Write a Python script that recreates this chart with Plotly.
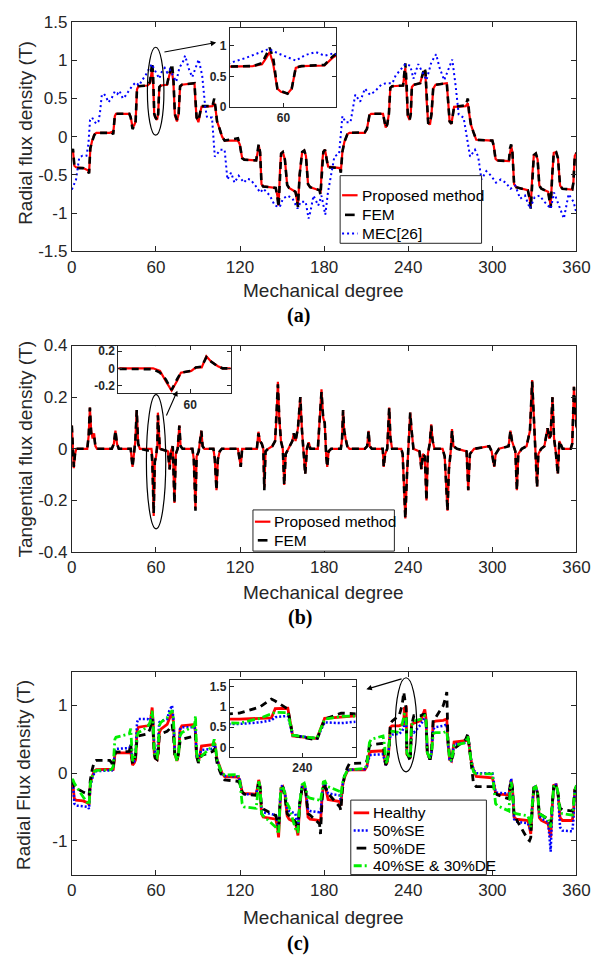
import plotly.graph_objects as go

# ---------------- (a) radial flux density ----------------
a_deg = [0, 0.8, 1.8, 3, 8, 11.5, 12.3, 13.2, 14.5, 16,
         17.5, 27, 28.5, 29.5, 30.7, 31.5, 41, 42, 43.3, 44.5,
         45.5, 46.5, 47.5, 54, 55.8, 56.6, 57.3, 58, 58.8, 59.5,
         60.8, 61.6, 62.4, 63.5, 68, 69.5, 70.8, 71.5, 72.5, 73.5,
         75, 76.2, 77.2, 78.5, 87.5, 88.2, 89, 90.3, 91.5, 92.5,
         100.3, 101.6, 102.4, 103.6, 105.5, 107.2, 109, 118.5, 119.8, 121.5,
         123, 131.5, 132.6, 133.3, 134.3, 135.3, 136.5, 145.5, 146.7, 147.5,
         148.6, 149.3, 150.5, 152, 153.6, 155, 159.5, 160.5, 161.3, 162.5,
         164.3, 165.8, 167, 168.5, 170, 176.7, 177.4, 178.5, 179.4, 180.6,
         181.8, 182.8, 191.2, 191.9, 193, 194.4, 196.5, 198, 209, 210.5,
         212.3, 213.5, 222, 223.2, 223.9, 225, 226.2, 227.2, 228.5, 236.3,
         237, 237.9, 238.8, 239.7, 241, 241.8, 242.6, 244, 248.5, 250,
         251.5, 252.3, 253.2, 254.2, 255.5, 256.6, 257.8, 259.5, 267.5, 268.5,
         269.5, 270.8, 271.8, 272.7, 281, 282.5, 283.5, 284.7, 286.5, 288.5,
         300, 301, 302.3, 303.5, 311.8, 312.6, 313.4, 314.3, 315.5, 317,
         325.3, 326.5, 327.4, 328.5, 329.6, 331, 332.3, 333.5, 335, 339.8,
         340.8, 341.6, 342.7, 343.8, 345.5, 346.8, 348.3, 350, 357, 357.8,
         358.8, 360]
a_proposed = [-0.22, -0.18, -0.38, -0.40, -0.41, -0.44, -0.47, -0.16, -0.05, 0.03,
              0.05, 0.05, 0.06, 0.04, 0.27, 0.30, 0.30, 0.26, 0.12, 0.15,
              0.20, 0.62, 0.66, 0.67, 0.70, 0.80, 0.90, 0.70, 0.30, 0.25,
              0.22, 0.30, 0.64, 0.67, 0.68, 0.80, 0.87, 0.85, 0.70, 0.28,
              0.20, 0.30, 0.65, 0.68, 0.70, 0.45, 0.25, 0.19, 0.28, 0.39,
              0.40, 0.44, 0.38, 0.20, 0.10, 0.00, -0.05, -0.05, -0.10, -0.28,
              -0.30, -0.31, -0.20, -0.11, -0.20, -0.62, -0.65, -0.67, -0.78, -0.90,
              -0.40, -0.22, -0.20, -0.30, -0.63, -0.67, -0.72, -0.80, -0.90, -0.50,
              -0.20, -0.18, -0.25, -0.62, -0.66, -0.70, -0.74, -0.35, -0.20, -0.17,
              -0.30, -0.39, -0.41, -0.46, -0.20, -0.07, 0.03, 0.05, 0.05, 0.10,
              0.28, 0.30, 0.30, 0.18, 0.12, 0.16, 0.30, 0.64, 0.66, 0.67,
              0.80, 0.90, 0.60, 0.27, 0.22, 0.30, 0.65, 0.68, 0.70, 0.80,
              0.86, 0.80, 0.45, 0.18, 0.16, 0.30, 0.63, 0.68, 0.70, 0.45,
              0.20, 0.17, 0.30, 0.39, 0.40, 0.44, 0.30, 0.16, 0.06, -0.04,
              -0.05, -0.12, -0.29, -0.31, -0.32, -0.18, -0.12, -0.20, -0.62, -0.66,
              -0.70, -0.80, -0.90, -0.50, -0.24, -0.22, -0.30, -0.64, -0.68, -0.72,
              -0.82, -0.90, -0.50, -0.21, -0.20, -0.28, -0.64, -0.68, -0.69, -0.60,
              -0.25, -0.21]
a_fem = [-0.20, -0.16, -0.38, -0.41, -0.41, -0.45, -0.48, -0.15, -0.06, 0.02,
         0.05, 0.05, 0.06, 0.03, 0.28, 0.30, 0.30, 0.25, 0.10, 0.14,
         0.20, 0.63, 0.66, 0.67, 0.72, 0.85, 0.97, 0.80, 0.30, 0.26,
         0.22, 0.30, 0.65, 0.67, 0.69, 0.82, 0.90, 0.95, 0.75, 0.30,
         0.22, 0.30, 0.66, 0.68, 0.70, 0.50, 0.25, 0.21, 0.30, 0.40,
         0.40, 0.50, 0.40, 0.20, 0.10, 0.00, -0.05, -0.02, -0.10, -0.28,
         -0.30, -0.31, -0.18, -0.10, -0.20, -0.62, -0.65, -0.67, -0.80, -0.92,
         -0.50, -0.22, -0.20, -0.30, -0.63, -0.67, -0.72, -0.80, -0.92, -0.50,
         -0.20, -0.18, -0.25, -0.62, -0.66, -0.70, -0.76, -0.35, -0.20, -0.17,
         -0.30, -0.40, -0.41, -0.47, -0.20, -0.07, 0.03, 0.05, 0.06, 0.10,
         0.28, 0.30, 0.30, 0.18, 0.12, 0.16, 0.30, 0.64, 0.66, 0.67,
         0.85, 0.96, 0.70, 0.27, 0.22, 0.30, 0.66, 0.68, 0.70, 0.82,
         0.90, 0.85, 0.45, 0.18, 0.17, 0.30, 0.64, 0.68, 0.70, 0.45,
         0.20, 0.17, 0.30, 0.39, 0.41, 0.50, 0.30, 0.16, 0.06, -0.04,
         -0.05, -0.12, -0.30, -0.31, -0.32, -0.15, -0.10, -0.20, -0.62, -0.66,
         -0.70, -0.80, -0.94, -0.50, -0.24, -0.22, -0.30, -0.64, -0.68, -0.72,
         -0.82, -0.93, -0.50, -0.21, -0.20, -0.28, -0.64, -0.68, -0.69, -0.60,
         -0.25, -0.21]
mec_deg = [0, 3, 5.3, 7.5, 10.4, 11.8, 13, 14.5, 16, 17.5,
           19, 20, 21.4, 23, 24.5, 26, 28.3, 30.6, 32.5, 34,
           36.4, 38.5, 41, 43.3, 45.6, 48, 50.2, 52.5, 54.8, 57.1,
           58.9, 60.6, 62.4, 64.2, 66.3, 68, 69.8, 71.5, 73.2, 74.5,
           76.7, 79.5, 80.8, 83.6, 85.9, 88.5, 90.5, 93, 95.2, 96.5,
           100, 102, 104, 106, 109, 111, 113.6, 116, 119, 122.8,
           125, 127.4, 131, 134.4, 136.7, 139, 141.3, 144.8, 148.3, 150.6,
           154, 157.5, 161, 163.3, 166.8, 168.9, 170.2, 172.4, 175.8, 178.1,
           180.8, 182.7, 185, 187.3, 190.7, 193, 195.3, 198.8, 202.2, 205.7,
           209.1, 212.6, 216, 220.7, 224.1, 228.7, 231, 234.4, 237.9, 241.4,
           243.7, 247.1, 249.4, 253, 256.4, 259.9, 262.2, 265.6, 268, 271.4,
           273.7, 276, 279.5, 281.8, 284.1, 287.6, 289.9, 292.2, 295.7, 299.1,
           302.6, 306, 309.5, 312.9, 316.4, 319.8, 323.3, 326.8, 330.2, 333.7,
           337.1, 341.7, 344, 347.5, 351, 354.4, 357.9, 360]
mec_val = [-0.69, -0.56, -0.27, -0.25, -0.25, -0.10, 0.22, 0.25, 0.20, 0.17,
           0.20, 0.30, 0.55, 0.56, 0.52, 0.45, 0.50, 0.59, 0.56, 0.60,
           0.50, 0.54, 0.61, 0.67, 0.71, 0.67, 0.74, 0.80, 0.88, 0.95,
           0.88, 0.82, 0.76, 0.85, 0.90, 0.84, 0.88, 0.82, 0.76, 0.72,
           0.90, 0.99, 1.06, 0.88, 0.78, 0.92, 1.01, 0.80, 0.38, 0.25,
           0.25, -0.26, -0.22, -0.17, -0.17, -0.56, -0.47, -0.60, -0.51, -0.60,
           -0.55, -0.56, -0.64, -0.73, -0.68, -0.72, -0.77, -0.90, -0.92, -0.81,
           -0.77, -0.81, -0.94, -0.85, -0.85, -1.07, -0.98, -0.77, -0.90, -0.77,
           -1.02, -0.73, -0.47, -0.26, -0.22, 0.27, 0.19, 0.19, 0.55, 0.46,
           0.63, 0.55, 0.59, 0.68, 0.70, 0.70, 0.80, 0.87, 0.95, 0.93,
           0.76, 0.95, 0.87, 0.74, 0.97, 1.08, 0.91, 0.74, 0.85, 1.01,
           0.68, 0.29, 0.25, 0.00, -0.26, -0.17, -0.26, -0.56, -0.45, -0.51,
           -0.60, -0.56, -0.60, -0.68, -0.64, -0.81, -0.77, -0.94, -0.79, -0.77,
           -0.85, -0.94, -0.73, -0.90, -1.07, -0.75, -0.85, -1.00]

# ---------------- (b) tangential flux density ----------------
b_deg = [0, 0.7, 1.4, 2.3, 3.2, 11, 12, 12.9, 13.8, 14.8,
         15.9, 16.8, 18, 28.5, 30, 31.1, 32.2, 33.5, 42, 43.3,
         44.5, 45.3, 46.3, 47.3, 48.5, 56.8, 57.4, 57.9, 58.4, 58.9,
         59.2, 60.1, 60.5, 61, 61.4, 61.8, 62.4, 62.8, 68.5, 69.8,
         70.6, 72, 73.2, 74.2, 75.5, 76.7, 77.6, 79, 86, 87,
         88.2, 89, 90.5, 92.4, 93.3, 94.5, 101, 102, 103.2, 104.2,
         105.5, 107, 118.5, 120.5, 121.5, 132, 133.1, 134.2, 135.5, 136.6,
         137.3, 138.2, 140, 143, 145, 146, 147, 148, 149.2, 150.5,
         151.5, 152.6, 154.5, 157.3, 158.4, 159.6, 161.3, 163, 164.2, 165.3,
         166.5, 167.7, 169, 170.2, 175.5, 177, 178.1, 179.3, 180.4, 181.5,
         182.2, 183.2, 185, 191.9, 192.8, 193.5, 194.3, 195.3, 196.5, 198,
         209, 210.7, 211.7, 212.5, 214, 221.8, 222.5, 223.5, 225, 226.4,
         227.3, 228.5, 235, 236, 236.8, 237.9, 239.1, 240.2, 241.4, 242.4,
         243.7, 248, 249.4, 250.4, 251.8, 253, 254, 255.3, 256.4, 257.4,
         258.7, 264.5, 266, 268, 269, 270.3, 271.2, 272.2, 274.8, 281.6,
         282.8, 284, 285.8, 287, 297.8, 299.5, 301.3, 302.4, 304.7, 311.6,
         312.9, 314, 316.4, 317.5, 318.5, 321, 324.4, 326.8, 328.4, 329.6,
         330.6, 331.9, 332.8, 334.8, 337.1, 339.4, 340.5, 341.5, 342.9, 344,
         345.2, 346.7, 347.8, 350.1, 355.9, 357, 358.2, 359.2, 360]
b_proposed = [0.09, 0.00, -0.075, -0.02, 0.00, 0.00, 0.05, 0.16, 0.07, 0.04,
              0.06, 0.01, 0.00, 0.00, 0.02, 0.07, 0.02, 0.00, 0.00, -0.07,
              -0.01, 0.03, 0.15, 0.02, 0.00, 0.00, -0.03, -0.15, -0.26, -0.14,
              -0.05, -0.03, 0.01, 0.01, 0.14, 0.08, 0.025, 0.00, -0.01, -0.08,
              -0.01, 0.01, -0.21, -0.02, 0.00, 0.09, 0.01, 0.00, 0.00, -0.04,
              -0.23, -0.03, -0.01, 0.07, 0.01, 0.00, 0.00, -0.04, -0.16, -0.04,
              -0.01, 0.00, 0.00, -0.07, 0.00, 0.00, 0.066, 0.03, 0.02, 0.00,
              -0.15, -0.01, 0.00, 0.01, 0.03, 0.12, 0.26, 0.12, 0.03, 0.00,
              -0.14, -0.02, 0.00, 0.03, 0.06, 0.03, 0.08, 0.20, 0.07, 0.00,
              -0.095, 0.00, 0.025, 0.00, 0.00, 0.13, 0.23, 0.12, 0.10, -0.03,
              -0.07, -0.01, 0.00, 0.00, 0.04, 0.15, 0.07, 0.04, 0.01, 0.00,
              0.00, 0.01, 0.07, 0.01, 0.00, 0.00, -0.07, -0.02, 0.00, 0.16,
              0.04, 0.00, 0.00, -0.02, -0.11, -0.27, -0.10, 0.04, 0.14, 0.07,
              0.00, -0.01, -0.08, -0.02, -0.03, -0.20, -0.02, 0.02, 0.095, 0.03,
              0.00, 0.00, -0.03, -0.24, -0.08, -0.01, 0.076, 0.01, 0.00, -0.01,
              -0.16, -0.02, -0.01, 0.00, 0.01, -0.01, -0.07, -0.02, 0.00, 0.01,
              0.07, 0.03, -0.01, -0.16, -0.02, 0.00, 0.01, 0.07, 0.266, 0.10,
              0.02, -0.146, -0.02, 0.00, 0.01, 0.08, 0.04, 0.05, 0.20, 0.04,
              -0.01, -0.095, 0.03, 0.00, 0.00, 0.02, 0.24, 0.17, 0.08]
b_fem = [0.09, 0.00, -0.07, -0.02, 0.00, 0.00, 0.05, 0.16, 0.06, 0.05,
         0.05, 0.01, 0.00, 0.00, 0.02, 0.07, 0.02, 0.00, 0.00, -0.07,
         -0.01, 0.03, 0.15, 0.02, 0.00, -0.01, -0.05, -0.13, -0.25, -0.12,
         -0.05, -0.03, 0.01, 0.02, 0.13, 0.08, 0.02, 0.00, -0.01, -0.08,
         -0.01, 0.01, -0.21, -0.02, 0.00, 0.09, 0.01, 0.00, 0.00, -0.04,
         -0.24, -0.03, -0.01, 0.07, 0.01, 0.00, 0.00, -0.04, -0.16, -0.04,
         -0.01, 0.00, 0.00, -0.07, 0.00, 0.00, 0.06, 0.03, 0.02, 0.00,
         -0.16, -0.01, 0.00, 0.01, 0.03, 0.12, 0.25, 0.12, 0.03, 0.00,
         -0.14, -0.02, 0.00, 0.03, 0.06, 0.03, 0.08, 0.20, 0.07, 0.00,
         -0.10, 0.00, 0.025, 0.00, 0.00, 0.13, 0.22, 0.12, 0.10, -0.03,
         -0.07, -0.01, 0.00, 0.00, 0.04, 0.15, 0.07, 0.04, 0.01, 0.00,
         0.00, 0.01, 0.07, 0.01, 0.00, 0.00, -0.07, -0.02, 0.00, 0.16,
         0.04, 0.00, 0.00, -0.02, -0.11, -0.27, -0.10, 0.04, 0.14, 0.07,
         0.00, -0.01, -0.08, -0.02, -0.03, -0.20, -0.02, 0.02, 0.09, 0.03,
         0.00, 0.00, -0.03, -0.24, -0.08, -0.01, 0.07, 0.01, 0.00, -0.01,
         -0.16, -0.02, -0.01, 0.00, 0.01, -0.01, -0.07, -0.02, 0.00, 0.01,
         0.07, 0.03, -0.01, -0.16, -0.02, 0.00, 0.01, 0.07, 0.26, 0.10,
         0.02, -0.15, -0.02, 0.00, 0.01, 0.08, 0.04, 0.05, 0.20, 0.04,
         -0.01, -0.10, 0.03, 0.00, 0.00, 0.02, 0.24, 0.17, 0.08]

# ---------------- (c) radial flux density under faults ----------------
c_deg = [0, 0.8, 1.8, 3, 8, 11.5, 12.3, 13.2, 14.5, 16,
         17.5, 27, 28.5, 29.5, 30.7, 31.5, 41, 42, 43.3, 44.5,
         45.5, 46.5, 47.5, 54, 55.8, 56.6, 57.3, 58, 58.8, 59.5,
         60.8, 61.6, 62.4, 63.5, 68, 69.5, 70.8, 71.5, 72.5, 73.5,
         75, 76.2, 77.2, 78.5, 87.5, 88.2, 89, 90.3, 91.5, 92.5,
         100.3, 101.6, 102.4, 103.6, 105.5, 107.2, 109, 118.5, 119.8, 121.5,
         123, 131.5, 132.6, 133.3, 134.3, 135.3, 136.5, 145.5, 146.7, 147.5,
         148.6, 149.3, 150.5, 152, 153.6, 155, 159.5, 160.5, 161.3, 162.5,
         164.3, 165.8, 167, 168.5, 170, 176.7, 177.4, 178.5, 179.4, 180.6,
         181.8, 182.8, 191.2, 191.9, 193, 194.4, 196.5, 198, 209, 210.5,
         212.3, 213.5, 222, 223.2, 223.9, 225, 226.2, 227.2, 228.5, 233.5,
         235.6, 236.8, 237.2, 238.5, 239, 241.5, 242.3, 244, 249, 250.5,
         251.8, 252.7, 253.6, 255.5, 256.6, 257.8, 259.5, 265, 266.8, 267.5,
         268.3, 269.5, 270.8, 271.8, 272.7, 281, 282.5, 283.5, 284.7, 286.5,
         288.5, 300, 301, 302.3, 303.5, 311.8, 312.6, 313.4, 314.3, 315.5,
         317, 325.3, 326.5, 327.4, 328.5, 329.6, 331, 332.3, 333.5, 335,
         339.8, 340.8, 341.6, 342.7, 343.8, 345.5, 346.8, 348.3, 350, 357,
         357.8, 358.8, 360]
c_healthy = [-0.22, -0.18, -0.38, -0.40, -0.41, -0.44, -0.47, -0.16, -0.05, 0.03,
             0.05, 0.05, 0.06, 0.04, 0.27, 0.30, 0.30, 0.33, 0.12, 0.15,
             0.20, 0.62, 0.68, 0.70, 0.73, 0.85, 0.97, 0.75, 0.30, 0.22,
             0.20, 0.30, 0.60, 0.65, 0.72, 0.80, 0.88, 0.90, 0.75, 0.28,
             0.18, 0.30, 0.65, 0.70, 0.72, 0.60, 0.25, 0.17, 0.28, 0.40,
             0.42, 0.45, 0.38, 0.20, 0.10, 0.00, -0.05, -0.06, -0.10, -0.28,
             -0.30, -0.31, -0.20, -0.10, -0.20, -0.60, -0.65, -0.68, -0.80, -0.95,
             -0.45, -0.22, -0.20, -0.30, -0.63, -0.68, -0.73, -0.82, -0.92, -0.50,
             -0.20, -0.18, -0.30, -0.65, -0.68, -0.70, -0.75, -0.35, -0.20, -0.17,
             -0.30, -0.39, -0.42, -0.48, -0.20, -0.07, 0.03, 0.05, 0.05, 0.10,
             0.30, 0.32, 0.33, 0.20, 0.12, 0.16, 0.35, 0.68, 0.70, 0.70,
             0.72, 0.73, 0.96, 0.97, 0.28, 0.22, 0.72, 0.74, 0.78, 0.88,
             0.94, 0.80, 0.30, 0.20, 0.30, 0.75, 0.77, 0.78, 0.80, 0.80,
             0.45, 0.20, 0.18, 0.30, 0.46, 0.48, 0.55, 0.40, 0.20, 0.05,
             -0.05, -0.07, -0.15, -0.30, -0.31, -0.32, -0.20, -0.10, -0.20, -0.65,
             -0.68, -0.70, -0.80, -0.90, -0.50, -0.22, -0.20, -0.30, -0.66, -0.70,
             -0.75, -0.88, -0.95, -0.50, -0.18, -0.17, -0.30, -0.66, -0.70, -0.70,
             -0.60, -0.25, -0.20]
c_se50 = [-0.15, -0.12, -0.45, -0.48, -0.49, -0.50, -0.53, -0.20, -0.08, 0.00,
          0.03, 0.03, 0.04, 0.06, 0.33, 0.36, 0.37, 0.42, 0.15, 0.17,
          0.30, 0.75, 0.80, 0.80, 0.78, 0.82, 0.85, 0.78, 0.35, 0.30,
          0.28, 0.50, 0.75, 0.77, 0.80, 0.92, 0.98, 1.00, 0.80, 0.30,
          0.20, 0.30, 0.65, 0.68, 0.68, 0.60, 0.25, 0.20, 0.30, 0.34,
          0.36, 0.42, 0.38, 0.20, 0.08, -0.02, -0.04, -0.05, -0.10, -0.30,
          -0.31, -0.32, -0.20, -0.12, -0.20, -0.55, -0.58, -0.62, -0.72, -0.85,
          -0.40, -0.20, -0.18, -0.28, -0.53, -0.56, -0.60, -0.70, -0.82, -0.45,
          -0.18, -0.17, -0.25, -0.54, -0.56, -0.58, -0.60, -0.32, -0.18, -0.15,
          -0.25, -0.30, -0.33, -0.42, -0.20, -0.05, 0.04, 0.05, 0.06, 0.10,
          0.25, 0.27, 0.28, 0.20, 0.12, 0.16, 0.35, 0.55, 0.57, 0.58,
          0.62, 0.67, 0.75, 0.78, 0.30, 0.22, 0.62, 0.60, 0.72, 0.78,
          0.82, 0.75, 0.30, 0.20, 0.30, 0.65, 0.68, 0.70, 0.72, 0.72,
          0.45, 0.20, 0.17, 0.30, 0.43, 0.45, 0.55, 0.42, 0.22, 0.05,
          0.00, 0.00, -0.10, -0.28, -0.29, -0.30, -0.18, -0.08, -0.20, -0.68,
          -0.72, -0.74, -0.80, -0.85, -0.45, -0.20, -0.20, -0.30, -0.64, -0.67,
          -0.72, -1.00, -1.16, -0.55, -0.17, -0.17, -0.30, -0.80, -0.85, -0.86,
          -0.70, -0.25, -0.18]
c_de50 = [-0.15, -0.13, -0.20, -0.22, -0.28, -0.31, -0.33, -0.10, 0.05, 0.17,
          0.19, 0.19, 0.15, 0.08, 0.28, 0.31, 0.32, 0.43, 0.14, 0.18,
          0.25, 0.50, 0.55, 0.58, 0.65, 0.75, 0.80, 0.60, 0.28, 0.22,
          0.20, 0.30, 0.55, 0.58, 0.62, 0.65, 0.70, 0.72, 0.55, 0.25,
          0.20, 0.30, 0.47, 0.50, 0.55, 0.58, 0.25, 0.15, 0.22, 0.26,
          0.32, 0.35, 0.30, 0.15, 0.03, -0.05, -0.10, -0.12, -0.15, -0.28,
          -0.31, -0.33, -0.22, -0.12, -0.22, -0.50, -0.53, -0.63, -0.72, -0.85,
          -0.40, -0.24, -0.22, -0.35, -0.60, -0.63, -0.72, -0.80, -0.85, -0.45,
          -0.22, -0.20, -0.30, -0.60, -0.62, -0.75, -0.90, -0.40, -0.22, -0.20,
          -0.25, -0.30, -0.50, -0.55, -0.25, -0.05, 0.08, 0.14, 0.15, 0.18,
          0.40, 0.42, 0.44, 0.25, 0.12, 0.17, 0.35, 0.72, 0.77, 0.85,
          1.00, 1.20, 1.15, 0.95, 0.30, 0.18, 0.70, 0.85, 0.85, 0.87,
          0.87, 0.75, 0.30, 0.20, 0.30, 0.80, 0.82, 1.00, 1.13, 1.20,
          0.50, 0.25, 0.20, 0.25, 0.36, 0.50, 0.58, 0.40, 0.10, -0.15,
          -0.20, -0.20, -0.22, -0.30, -0.32, -0.38, -0.20, -0.12, -0.22, -0.62,
          -0.68, -0.98, -1.00, -0.95, -0.50, -0.22, -0.22, -0.30, -0.60, -0.62,
          -0.68, -0.72, -0.75, -0.45, -0.20, -0.20, -0.30, -0.52, -0.54, -0.56,
          -0.50, -0.25, -0.20]
c_mixed = [-0.10, -0.10, -0.15, -0.19, -0.35, -0.45, -0.47, -0.16, -0.05, 0.02,
           0.04, 0.05, 0.06, 0.10, 0.50, 0.53, 0.58, 0.66, 0.18, 0.20,
           0.30, 0.55, 0.60, 0.68, 0.75, 0.85, 0.92, 0.75, 0.30, 0.25,
           0.23, 0.35, 0.70, 0.75, 0.82, 0.88, 0.90, 0.93, 0.80, 0.30,
           0.18, 0.30, 0.55, 0.60, 0.70, 0.85, 0.30, 0.18, 0.22, 0.25,
           0.40, 0.50, 0.40, 0.20, 0.08, 0.00, -0.03, -0.02, -0.10, -0.45,
           -0.50, -0.52, -0.30, -0.12, -0.20, -0.60, -0.63, -0.80, -0.85, -0.90,
           -0.40, -0.20, -0.20, -0.30, -0.45, -0.50, -0.82, -0.85, -0.88, -0.45,
           -0.17, -0.15, -0.25, -0.35, -0.37, -0.40, -0.42, -0.25, -0.13, -0.12,
           -0.18, -0.20, -0.27, -0.35, -0.15, -0.05, 0.04, 0.05, 0.07, 0.12,
           0.45, 0.50, 0.55, 0.40, 0.15, 0.18, 0.45, 0.60, 0.62, 0.60,
           0.72, 0.82, 0.87, 0.86, 0.30, 0.22, 0.70, 0.77, 0.80, 0.83,
           0.85, 0.80, 0.30, 0.22, 0.30, 0.58, 0.60, 0.60, 0.62, 0.62,
           0.45, 0.22, 0.18, 0.30, 0.41, 0.45, 0.55, 0.40, 0.20, 0.02,
           -0.01, -0.01, -0.20, -0.45, -0.48, -0.56, -0.30, -0.13, -0.25, -0.58,
           -0.60, -0.63, -0.70, -0.80, -0.45, -0.22, -0.20, -0.28, -0.60, -0.62,
           -0.68, -0.75, -0.80, -0.45, -0.20, -0.18, -0.28, -0.58, -0.60, -0.62,
           -0.50, -0.25, -0.18]

# ---------------- ticks ----------------
x_ticks = [0, 60, 120, 180, 240, 300, 360]
a_yticks = [-1.5, -1, -0.5, 0, 0.5, 1, 1.5]
a_ylabels = ["-1.5", "-1", "-0.5", "0", "0.5", "1", "1.5"]
b_yticks = [-0.4, -0.2, 0, 0.2, 0.4]
b_ylabels = ["-0.4", "-0.2", "0", "0.2", "0.4"]
c_yticks = [-1, 0, 1]
c_ylabels = ["-1", "0", "1"]

RED, BLUE, BLACK, GREEN = "#ff0000", "#0000ff", "#000000", "#00ee00"
AXC = "#262626"
SANS = "Liberation Sans, Arial, sans-serif"
SERIF = "Liberation Serif, Times New Roman, serif"
W, H = 605, 964

# line styles: (colour, width, dash)
ST_RED_A = (RED, 2.2, "solid")
ST_BLK_A = (BLACK, 2.6, "7px,5px")
ST_BLU_A = (BLUE, 2.0, "2px,3px")
ST_RED_C = (RED, 2.8, "solid")
ST_BLU_C = (BLUE, 2.5, "2px,2px")
ST_BLK_C = (BLACK, 2.8, "7px,5px")
ST_GRN_C = (GREEN, 2.8, "8px,3px,2px,3px")

fig = go.Figure()


def line(x, y, xa, ya, style, name):
    color, width, dash = style
    fig.add_trace(go.Scatter(x=x, y=y, xaxis=xa, yaxis=ya, mode="lines",
                             line=dict(color=color, width=width, dash=dash),
                             name=name, showlegend=False, hoverinfo="skip"))


# (a) main + inset
for xa, ya in (("x", "y"), ("x2", "y2")):
    line(a_deg, a_proposed, xa, ya, ST_RED_A, "Proposed method")
    line(a_deg, a_fem, xa, ya, ST_BLK_A, "FEM")
    line(mec_deg, mec_val, xa, ya, ST_BLU_A, "MEC[26]")

# (b) main + inset
for xa, ya in (("x3", "y3"), ("x4", "y4")):
    line(b_deg, b_proposed, xa, ya, ST_RED_A, "Proposed method")
    line(b_deg, b_fem, xa, ya, ST_BLK_A, "FEM")

# (c) main + inset
for xa, ya in (("x5", "y5"), ("x6", "y6")):
    line(c_deg, c_healthy, xa, ya, ST_RED_C, "Healthy")
    line(c_deg, c_se50, xa, ya, ST_BLU_C, "50%SE")
    line(c_deg, c_de50, xa, ya, ST_BLK_C, "50%DE")
    line(c_deg, c_mixed, xa, ya, ST_GRN_C, "40%SE & 30%DE")


def px_dom_x(a, b):
    return [a / W, b / W]


def px_dom_y(top, bottom):
    return [1 - bottom / H, 1 - top / H]


def axis(domain, rng, tickvals, ticktext, anchor, small=False):
    return dict(domain=domain, range=rng, tickvals=tickvals, ticktext=ticktext,
                anchor=anchor, showline=True, linecolor=AXC, linewidth=1,
                mirror="ticks", ticks="inside", ticklen=4 if small else 5,
                tickcolor=AXC, showgrid=False, zeroline=False, fixedrange=True,
                tickfont=dict(family=SANS, size=12 if small else 17, color=AXC,
                              weight="bold" if small else "normal"))


XMAIN = px_dom_x(69, 590)
xlab = [str(v) for v in x_ticks]
layout_axes = dict(
    xaxis=axis(XMAIN, [0, 360], x_ticks, xlab, "y"),
    yaxis=axis(px_dom_y(13.3, 247.3), [-1.5, 1.5], a_yticks, a_ylabels, "x"),
    xaxis2=axis(px_dom_x(232, 342), [49.5, 70.3], [60], ["60"], "y2", True),
    yaxis2=axis(px_dom_y(19, 100), [0, 1.3], [0, 0.5, 1], ["0", "0.5", "1"], "x2", True),
    xaxis3=axis(XMAIN, [0, 360], x_ticks, xlab, "y3"),
    yaxis3=axis(px_dom_y(343.3, 554), [-0.4, 0.4], b_yticks, b_ylabels, "x3"),
    xaxis4=axis(px_dom_x(117, 233), [53.8, 63.5], [60], ["60"], "y4", True),
    yaxis4=axis(px_dom_y(344, 392), [-0.29, 0.257], [-0.2, 0, 0.2], ["-0.2", "0", "0.2"], "x4", True),
    xaxis5=axis(XMAIN, [0, 360], x_ticks, xlab, "y5"),
    yaxis5=axis(px_dom_y(676, 883), [-1.5, 1.5], c_yticks, c_ylabels, "x5"),
    xaxis6=axis(px_dom_x(232, 362), [232.5, 245.5], [240], ["240"], "y6", True),
    yaxis6=axis(px_dom_y(685, 763), [-0.24, 1.66], [0, 0.5, 1, 1.5], ["0", "0.5", "1", "1.5"], "x6", True),
)

# white backgrounds for insets, ellipses
shapes = [
    dict(type="rect", xref="x2", yref="y2", x0=49.5, x1=70.3, y0=0, y1=1.3,
         fillcolor="white", line=dict(width=0), layer="below"),
    dict(type="rect", xref="x4", yref="y4", x0=53.8, x1=63.5, y0=-0.29, y1=0.257,
         fillcolor="white", line=dict(width=0), layer="below"),
    dict(type="rect", xref="x6", yref="y6", x0=232.5, x1=245.5, y0=-0.24, y1=1.66,
         fillcolor="white", line=dict(width=0), layer="below"),
    dict(type="circle", xref="x", yref="y", x0=53.9, x1=65.7, y0=0.02, y1=1.17,
         line=dict(color="black", width=1.2), layer="above"),
    dict(type="circle", xref="x3", yref="y3", x0=53.2, x1=67.0, y0=-0.31, y1=0.21,
         line=dict(color="black", width=1.2), layer="above"),
    dict(type="circle", xref="x5", yref="y5", x0=230.8, x1=246.0, y0=0.02, y1=1.41,
         line=dict(color="black", width=1.2), layer="above"),
]


def txt(text, xpx, ypx, size, family=SANS, angle=0, color=AXC, xanchor="center"):
    return dict(text=text, x=xpx / W, y=1 - ypx / H, xref="paper", yref="paper",
                showarrow=False, textangle=angle, xanchor=xanchor, yanchor="middle",
                font=dict(family=family, size=size, color=color))


annotations = [
    txt("Radial flux density (T)", 21, 126, 19, angle=-90),
    txt("Mechanical degree", 329, 287, 19),
    txt("<b>(a)</b>", 303, 313, 20, family=SERIF, color="black"),
    txt("Tangential flux density (T)", 21, 449, 19, angle=-90),
    txt("Mechanical degree", 329, 595, 19),
    txt("<b>(b)</b>", 305, 621, 20, family=SERIF, color="black"),
    txt("Radial Flux density (T)", 19, 781, 19, angle=-90),
    txt("Mechanical degree", 329, 927, 19),
    txt("<b>(c)</b>", 303, 953, 20, family=SERIF, color="black"),
    dict(x=103, y=1.232, xref="x", yref="y", ax=65, ay=1.105, axref="x", ayref="y",
         showarrow=True, arrowhead=2, arrowsize=1, arrowwidth=1.1, arrowcolor="black", text=""),
    dict(x=75.3, y=0.225, xref="x3", yref="y3", ax=67, ay=0.123, axref="x3", ayref="y3",
         showarrow=True, arrowhead=2, arrowsize=1, arrowwidth=1.1, arrowcolor="black", text=""),
    dict(x=210.1, y=1.24, xref="x5", yref="y5", ax=236.3, ay=1.40, axref="x5", ayref="y5",
         showarrow=True, arrowhead=2, arrowsize=1, arrowwidth=1.1, arrowcolor="black", text=""),
]


# legends drawn as boxes with sample lines and text (compact, MATLAB-like)
def legend(box, entries, sample_x, text_x, rows_y):
    x0, y0, x1, y1 = box
    shapes.append(dict(type="rect", xref="paper", yref="paper",
                       x0=x0 / W, x1=x1 / W, y0=1 - y1 / H, y1=1 - y0 / H,
                       fillcolor="white", line=dict(color=AXC, width=1), layer="above"))
    for (label, style, short), yy in zip(entries, rows_y):
        color, width, dash = style
        sx0, sx1 = sample_x
        if short:
            mid = (sx0 + sx1) / 2
            sx0, sx1, dash = mid - 5, mid + 5, "solid"
        shapes.append(dict(type="line", xref="paper", yref="paper",
                           x0=sx0 / W, x1=sx1 / W, y0=1 - yy / H, y1=1 - yy / H,
                           line=dict(color=color, width=width, dash=dash), layer="above"))
        annotations.append(txt(label, text_x, yy, 15.5, color="black", xanchor="left"))


legend((346, 170, 492, 239),
       [("Proposed method", ST_RED_A, False), ("FEM", ST_BLK_A, True), ("MEC[26]", ST_BLU_A, False)],
       (348, 364), 366, (190, 210, 229))
legend((256, 511, 402, 553),
       [("Proposed method", ST_RED_A, False), ("FEM", ST_BLK_A, True)],
       (258, 274), 276, (523, 542))
legend((357, 807, 497, 883),
       [("Healthy", ST_RED_C, False), ("50%SE", ST_BLU_C, False),
        ("50%DE", ST_BLK_C, True), ("40%SE & 30%DE", ST_GRN_C, False)],
       (360, 376), 378, (820, 838, 856, 874))

fig.update_layout(
    width=W, height=H, margin=dict(l=0, r=0, t=0, b=0),
    paper_bgcolor="white", plot_bgcolor="white", showlegend=False,
    font=dict(family=SANS, color=AXC),
    shapes=shapes, annotations=annotations,
    **layout_axes,
)

fig.write_html("out.html", config={"displayModeBar": False},
               post_script="document.body.style.margin='0';")
